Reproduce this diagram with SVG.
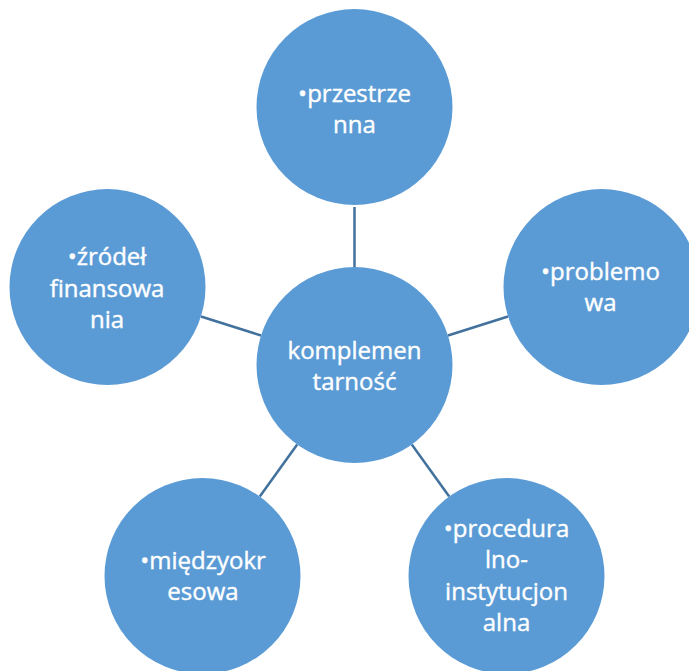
<svg xmlns="http://www.w3.org/2000/svg" width="689" height="671" viewBox="0 0 689 671">
<style>
.node{fill:#5B9BD5;}
.lbl{font-family:"Open Sans","Liberation Sans",sans-serif;font-size:24px;fill:#FFFFFF;stroke:#FFFFFF;stroke-width:0.4;text-anchor:middle;}
.conn{stroke:#41719C;stroke-width:2.5;fill:none;}
</style>
<rect width="689" height="671" fill="#FFFFFF"/>
<g id="connectors">
<line class="conn" x1="354.5" y1="267" x2="354.5" y2="207"/>
<line class="conn" x1="261" y1="335.5" x2="201" y2="316.5"/>
<line class="conn" x1="448" y1="335.5" x2="508" y2="316.5"/>
<line class="conn" x1="297.2" y1="444.5" x2="259.8" y2="496.5"/>
<line class="conn" x1="411.8" y1="444.5" x2="449.2" y2="496.5"/>
</g>
<g id="center">
<circle class="node" cx="354.5" cy="365" r="98"/>
<text class="lbl"><tspan x="354.5" y="358.5">komplemen</tspan><tspan x="354.5" y="390">tarność</tspan></text>
</g>
<g id="top">
<circle class="node" cx="354.5" cy="107" r="98"/>
<text class="lbl"><tspan x="354.5" y="101.5">•przestrze</tspan><tspan x="354.5" y="132.5">nna</tspan></text>
</g>
<g id="left">
<circle class="node" cx="107.5" cy="287" r="98"/>
<text class="lbl"><tspan x="107" y="265">•źródeł</tspan><tspan x="107" y="296.5">finansowa</tspan><tspan x="107" y="328">nia</tspan></text>
</g>
<g id="right">
<circle class="node" cx="601.5" cy="287" r="98"/>
<text class="lbl"><tspan x="600.5" y="279.5">•problemo</tspan><tspan x="600.5" y="310.5">wa</tspan></text>
</g>
<g id="bottom-left">
<circle class="node" cx="202.5" cy="576" r="98"/>
<text class="lbl"><tspan x="203" y="568.5">•międzyokr</tspan><tspan x="203" y="600">esowa</tspan></text>
</g>
<g id="bottom-right">
<circle class="node" cx="506.5" cy="576" r="98"/>
<text class="lbl"><tspan x="506.5" y="536.5">•procedura</tspan><tspan x="506.5" y="568">lno-</tspan><tspan x="506.5" y="599.5">instytucjon</tspan><tspan x="506.5" y="631">alna</tspan></text>
</g>
</svg>
